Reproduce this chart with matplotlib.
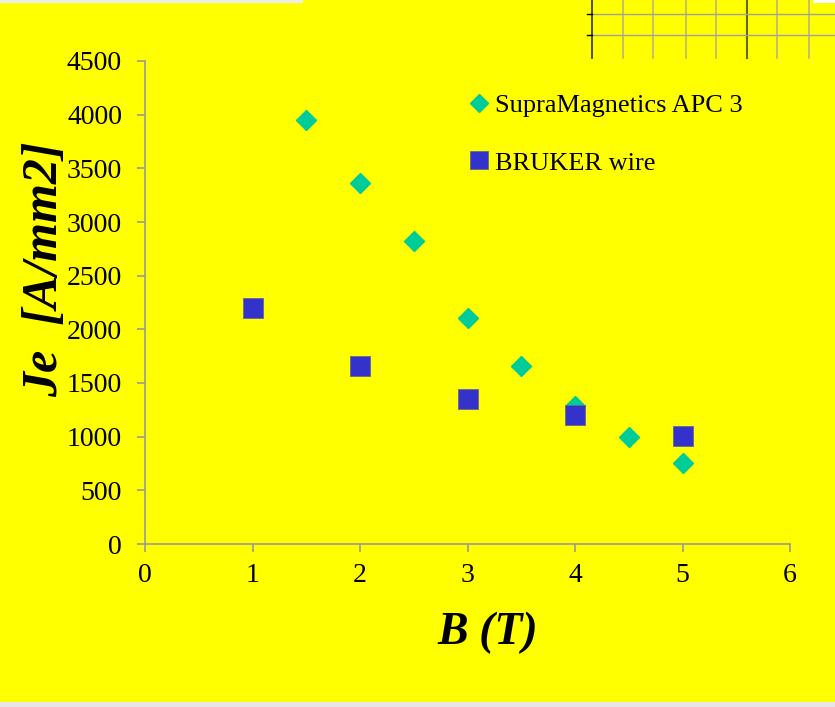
import matplotlib
matplotlib.use("Agg")
import matplotlib.pyplot as plt
from matplotlib.lines import Line2D
from matplotlib.patches import Rectangle

# Data
supra_B = [1.5, 2.0, 2.5, 3.0, 3.5, 4.0, 4.5, 5.0]
supra_Je = [3950, 3360, 2820, 2110, 1660, 1285, 995, 755]
bruker_B = [1, 2, 3, 4, 5]
bruker_Je = [2200, 1655, 1355, 1205, 1005]
x_ticks = [0, 1, 2, 3, 4, 5, 6]
y_ticks = [0, 500, 1000, 1500, 2000, 2500, 3000, 3500, 4000, 4500]

plt.rcParams['font.family'] = ['Liberation Serif', 'DejaVu Serif']

W, H = 835, 707
fig = plt.figure(figsize=(W / 100, H / 100), dpi=100)
fig.patch.set_facecolor('#FFFF00')

# decorative fragments at the edges
fig.add_artist(Rectangle((0, 1 - 3 / H), 303 / W, 3 / H, transform=fig.transFigure,
                         facecolor='#EDEDED', edgecolor='none'))
fig.add_artist(Rectangle((813 / W, 1 - 3 / H), 22 / W, 3 / H, transform=fig.transFigure,
                         facecolor='white', edgecolor='none'))
fig.add_artist(Rectangle((0, 0), 1, 5 / H, transform=fig.transFigure,
                         facecolor='#E6E6E6', edgecolor='none'))
for xv, c, lw in [(592, '#333300', 1.2), (623, '#B8B87A', 1.2), (653, '#B8B87A', 1.2),
                  (686, '#B8B87A', 1.2), (716, '#B8B87A', 1.2), (747, '#666600', 1.5),
                  (777, '#B8B87A', 1.2), (809, '#B8B87A', 1.2)]:
    fig.add_artist(Line2D([xv / W, xv / W], [1 - 58 / H, 1], transform=fig.transFigure,
                          color=c, lw=lw))
for yv in [14, 35]:
    fig.add_artist(Line2D([592 / W, 1], [1 - yv / H, 1 - yv / H], transform=fig.transFigure,
                          color='#A0A0A0', lw=1.0))
    fig.add_artist(Line2D([587 / W, 592 / W], [1 - yv / H, 1 - yv / H],
                          transform=fig.transFigure, color='black', lw=1.0))

ax = fig.add_axes([145 / W, 1 - 544 / H, (790 - 145) / W, (544 - 61) / H])
ax.set_facecolor('#FFFF00')

ax.plot(supra_B, supra_Je, linestyle='none', marker='D', markersize=10,
        color='#00CC99', markeredgecolor='#00CC99', label='SupraMagnetics APC 3', zorder=3)
ax.plot(bruker_B, bruker_Je, linestyle='none', marker='s', markersize=14,
        color='#3333CC', markeredgecolor='#666699', markeredgewidth=0.6,
        label='BRUKER wire', zorder=4)

ax.set_xlim(0, 6)
ax.set_ylim(0, 4500)
ax.set_xticks(x_ticks)
ax.set_yticks(y_ticks)
ax.tick_params(axis='both', direction='out', length=6, width=1.2, color='#999999',
               labelsize=20)
ax.tick_params(axis='y', pad=10.5)
ax.tick_params(axis='x', pad=8)
for s in ['top', 'right']:
    ax.spines[s].set_visible(False)
for s in ['left', 'bottom']:
    ax.spines[s].set_color('#999999')
    ax.spines[s].set_linewidth(1.2)

ax.set_xlabel('B (T)', fontsize=33, fontweight='bold', fontstyle='italic')
ax.xaxis.set_label_coords(0.532, -0.184)
ax.xaxis.label.set_va('center')
ax.set_ylabel('Je  [A/mm2]', fontsize=36, fontweight='bold', fontstyle='italic')
ax.yaxis.set_label_coords(-0.155, 0.568)
ax.yaxis.label.set_va('center')

leg = ax.legend(loc='upper left', bbox_to_anchor=(0.497, 0.933), frameon=False,
                fontsize=19, handlelength=1.0, handletextpad=0.1, markerscale=0.9,
                labelspacing=1.3, borderaxespad=0, borderpad=0)

fig.savefig('out.png', dpi=100, facecolor=fig.get_facecolor())
